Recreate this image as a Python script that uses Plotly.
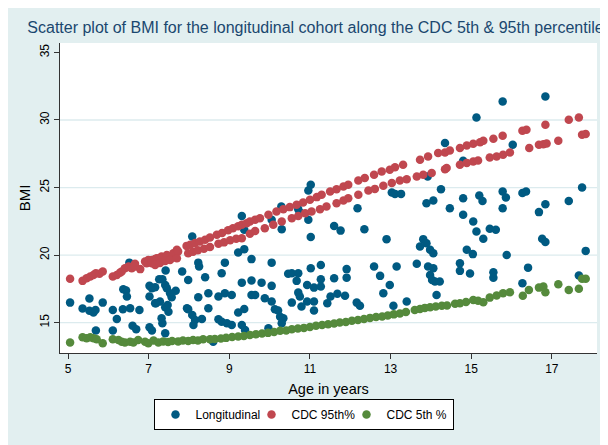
import plotly.graph_objects as go

# ---------------- data ----------------
long_age = [6.52, 5.05, 5.53, 5.36, 5.53, 5.63, 5.68, 5.86, 6.37, 6.44, 6.46, 6.36, 6.54, 6.11, 6.21,
            6.77, 5.69, 6.11, 6.60, 6.69, 7.02, 7.08, 7.02, 7.18, 7.26, 7.02, 7.08,
            9.31, 9.37, 8.08, 9.22, 9.37, 9.55, 8.23, 8.25, 8.89, 7.42, 7.83, 8.81, 8.40, 7.34,
            7.41, 7.45, 7.98, 9.31, 7.16, 7.67, 7.53, 7.57, 8.48, 8.23, 8.89, 9.06, 8.73, 9.55,
            7.28, 7.16, 7.47, 7.41, 7.49, 7.95, 7.98, 8.48, 9.37, 9.22, 8.08, 8.15, 8.32, 8.73,
            8.81, 8.94, 9.06, 7.32, 7.34, 8.11, 9.31, 9.39, 7.41, 8.60,
            11.02, 10.96, 10.29, 10.71, 10.75, 10.05, 10.96, 10.30, 11.60, 11.76, 11.02, 10.05,
            11.91, 11.02, 11.27, 10.46, 10.55, 10.71, 9.55, 9.80, 10.05, 10.67, 11.27, 11.60,
            11.91, 10.93, 11.10, 11.27, 10.71, 10.75, 9.64, 9.88, 10.05, 11.51, 11.68, 11.87,
            10.93, 11.10, 10.55, 11.43, 10.79, 10.13, 10.21, 10.26, 10.34, 11.10, 10.30, 9.97,
            14.35, 13.03, 13.11, 13.26, 13.92, 14.25, 13.89, 14.06, 12.18, 12.35, 12.90, 13.81,
            13.89, 13.73, 13.98, 14.06, 12.59, 13.15, 13.65, 12.74, 12.98, 13.93, 14.06, 13.98,
            14.03, 14.10, 14.22, 12.82, 14.14, 12.16, 12.24, 13.07, 13.40,
            15.78, 15.13, 16.03, 14.80, 14.80, 15.20, 15.28, 15.78, 15.86, 16.27, 16.36, 14.47,
            15.78, 14.80, 15.05, 15.13, 15.30, 15.46, 15.61, 14.89, 15.04, 15.88, 14.72, 14.72,
            14.97, 15.55, 15.55, 16.41, 16.27,
            16.84, 16.68, 16.84, 17.42, 17.75, 16.76, 16.84, 17.84, 17.67]
long_bmi = [19.44, 16.48, 16.78, 16.04, 15.87, 15.74, 15.94, 16.48, 17.47, 17.37, 16.93, 15.99, 16.07, 15.94, 15.27,
            15.94, 14.41, 14.41, 14.76, 14.51, 17.72, 17.55, 16.93, 16.44, 18.21, 14.66, 14.41,
            22.90, 21.87, 21.37, 20.19, 20.44, 19.70, 19.44, 19.15, 19.44, 18.85, 18.78, 18.66, 18.36, 18.21,
            17.79, 17.55, 18.16, 17.96, 17.62, 17.35, 17.18, 16.88, 17.18, 16.88, 17.18, 17.05, 16.93, 17.05,
            16.56, 16.44, 16.31, 16.14, 15.81, 16.07, 15.99, 16.07, 16.01, 15.74, 15.57, 15.20, 15.27, 15.25,
            15.07, 14.96, 14.83, 15.33, 14.96, 14.83, 14.83, 14.46, 14.21, 13.59,
            25.20, 24.78, 23.59, 23.40, 23.15, 22.61, 22.61, 21.92, 22.16, 21.81, 21.33, 19.44,
            18.96, 19.03, 19.27, 18.61, 18.66, 18.66, 18.11, 17.96, 17.72, 18.09, 18.21, 18.29,
            18.33, 17.79, 17.59, 17.67, 17.22, 16.93, 17.05, 16.81, 16.56, 16.93, 17.13, 16.98,
            16.56, 16.56, 16.48, 16.44, 16.19, 15.99, 15.89, 15.44, 15.33, 15.89, 14.96, 14.59,
            28.29, 24.63, 24.53, 24.53, 25.81, 24.88, 23.84, 24.04, 23.47, 21.92, 21.18, 21.18,
            20.88, 20.63, 20.39, 20.14, 19.15, 19.15, 19.35, 18.46, 17.79, 19.15, 19.03, 18.53,
            18.16, 18.04, 18.04, 17.18, 17.05, 16.48, 16.24, 16.24, 16.56,
            31.37, 30.19, 28.16, 26.98, 24.21, 24.41, 24.01, 24.70, 24.26, 24.59, 24.70, 23.47,
            23.47, 22.98, 22.48, 21.74, 21.20, 21.94, 21.87, 20.39, 20.07, 20.01, 19.40, 18.83,
            18.63, 18.73, 18.33, 19.07, 17.92,
            31.74, 23.18, 23.77, 24.01, 25.00, 21.20, 20.96, 20.31, 18.48]

p95_age = [5.05, 5.36, 5.46, 5.55, 5.63, 5.69, 5.78, 5.86, 6.11, 6.21, 6.29, 6.33, 6.41, 6.50, 6.54,
           6.58, 6.66, 6.66, 6.79, 6.91, 6.95, 6.99, 7.08, 7.08, 7.16, 7.20, 7.26, 7.32, 7.45, 7.61,
           7.70, 7.73, 7.16, 7.28, 7.41, 7.53, 7.70,
           7.94, 8.03, 8.15, 8.27, 8.40, 8.52, 8.69, 8.82, 8.97, 9.09, 9.22, 9.31, 9.43, 9.51, 9.64,
           7.98, 8.10, 8.22, 8.37, 8.52, 8.73, 8.87, 9.02, 9.17, 9.31, 9.51, 9.64,
           9.76, 9.97, 10.17, 10.34, 10.50, 10.67, 10.83, 11.00, 11.17, 11.29, 11.50, 11.66, 11.83, 11.95,
           9.88, 10.09, 10.30, 10.55, 10.71, 10.88, 11.04, 11.25, 11.41, 11.66, 11.83, 11.95,
           12.20, 12.36, 12.59, 12.78, 12.98, 13.11, 13.31, 13.73, 13.93, 14.18, 14.35,
           12.20, 12.45, 12.61, 12.82, 13.03, 13.23, 13.40, 13.65, 13.81, 14.02, 14.35,
           14.47, 14.72, 14.89, 15.05, 15.22, 15.30, 15.55, 15.78, 16.27, 16.37, 16.84, 17.42, 17.67,
           14.39, 14.72, 14.89, 15.05, 15.17, 15.46, 15.63, 15.79, 15.96, 16.44, 16.68, 16.79, 16.87,
           17.16, 17.75, 17.84]
p95_bmi = [18.24, 18.09, 18.29, 18.41, 18.53, 18.66, 18.61, 18.78, 18.41, 18.53, 18.70, 18.78, 19.03, 19.15, 19.10,
           19.03, 19.35, 19.15, 18.96, 19.52, 19.40, 19.64, 19.40, 19.64, 19.70, 19.77, 19.77, 19.89, 20.01, 20.14,
           20.39, 20.26, 19.27, 19.42, 19.57, 19.64, 19.77,
           20.68, 20.76, 20.90, 21.01, 21.13, 21.30, 21.50, 21.64, 21.83, 21.98, 22.13, 22.24, 22.36, 22.48, 22.61,
           20.14, 20.24, 20.35, 20.46, 20.59, 20.83, 20.94, 21.09, 21.20, 21.25, 21.57, 21.79,
           22.73, 22.98, 23.22, 23.40, 23.55, 23.72, 23.89, 24.09, 24.29, 24.46, 24.70, 24.88, 25.07, 25.20,
           21.99, 22.24, 22.48, 22.73, 22.90, 23.10, 23.22, 23.40, 23.59, 23.84, 24.04, 24.21,
           25.52, 25.70, 25.94, 26.19, 26.31, 26.51, 26.68, 27.05, 27.30, 27.55, 27.59,
           24.46, 24.78, 24.90, 25.13, 25.33, 25.52, 25.62, 25.81, 25.94, 26.07, 26.36,
           27.74, 27.92, 28.11, 28.24, 28.36, 28.46, 28.61, 28.83, 29.20, 29.27, 29.64, 30.01, 30.19,
           26.44, 26.68, 26.81, 26.93, 27.00, 27.22, 27.30, 27.42, 27.59, 27.92, 28.16, 28.21, 28.26,
           28.46, 28.90, 28.96]

p5_age = [5.05, 5.36, 5.46, 5.55, 5.63, 5.71, 5.86, 6.11, 6.25, 6.33, 6.41, 6.54, 6.62, 6.74, 6.91,
          6.99, 7.12, 7.24, 7.36, 7.48, 7.58, 7.73, 7.85, 7.98, 8.10, 8.22, 8.35, 8.52, 8.64, 8.79,
          8.92, 9.07, 9.22, 9.36, 9.51, 9.66, 9.81, 9.96, 10.11, 10.26, 10.41, 10.55, 10.70, 10.85,
          11.00, 11.15, 11.30, 11.45, 11.60, 11.74, 11.89, 12.04, 12.19, 12.34, 12.49, 12.64, 12.79,
          12.93, 13.08, 13.23, 13.38, 13.60, 13.73, 13.85, 13.98, 14.12, 14.27, 14.40, 14.60, 14.72,
          14.87, 15.05, 15.17, 15.30, 15.46, 15.63, 15.79, 15.96, 16.28, 16.43, 16.68, 16.79, 16.84,
          17.16, 17.42, 17.67, 17.75, 17.84]
p5_bmi = [13.52, 13.92, 13.84, 13.92, 13.84, 13.77, 13.47, 13.77, 13.72, 13.59, 13.52, 13.59, 13.52, 13.72, 13.59,
          13.47, 13.67, 13.52, 13.61, 13.57, 13.64, 13.61, 13.68, 13.64, 13.72, 13.68, 13.76, 13.76, 13.79, 13.83,
          13.87, 13.94, 13.98, 14.01, 14.09, 14.13, 14.20, 14.24, 14.31, 14.39, 14.42, 14.50, 14.57, 14.61,
          14.68, 14.76, 14.83, 14.87, 14.94, 15.01, 15.05, 15.13, 15.20, 15.27, 15.35, 15.42, 15.46,
          15.53, 15.61, 15.68, 15.79, 15.94, 16.01, 16.09, 16.13, 16.20, 16.24, 16.27, 16.39, 16.44,
          16.53, 16.68, 16.61, 16.51, 16.85, 17.00, 17.18, 17.25, 16.98, 17.42, 17.59, 17.67, 17.25,
          17.84, 17.42, 17.50, 18.24, 18.24]

x_ticks = [5, 7, 9, 11, 13, 15, 17]
y_ticks = [15, 20, 25, 30, 35]
grid_vals = [15, 20, 25, 30]

series_names = ["Longitudinal", "CDC 95th%", "CDC 5th %"]
series_colors = ["#005a82", "#c0474f", "#558a3c"]
legend_widths = [51, 50, 62]

# ---------------- figure ----------------
# The page body has an 8px margin, so the figure is 600x437 to fill the window.
fig = go.Figure()
for name, xs, ys, col, lw in zip(series_names,
                                 [long_age, p95_age, p5_age],
                                 [long_bmi, p95_bmi, p5_bmi],
                                 series_colors, legend_widths):
    fig.add_trace(go.Scatter(x=xs, y=ys, mode="markers", name=name, legendwidth=lw,
                             marker=dict(color=col, size=8.5, line=dict(width=0))))

BG = "#e2eff0"
shapes = [
    dict(type="rect", xref="paper", yref="paper", x0=-0.2, x1=1.1, y0=-0.5, y1=1.2,
         fillcolor=BG, line=dict(width=0), layer="below"),
    dict(type="rect", xref="paper", yref="paper", x0=0, x1=1, y0=0, y1=1,
         fillcolor="white", line=dict(width=0), layer="below"),
]
for g in grid_vals:
    shapes.append(dict(type="line", xref="paper", yref="y", x0=0, x1=1, y0=g, y1=g,
                       line=dict(color="#dcebee", width=1.3), layer="below"))

fig.update_layout(
    width=600, height=437,
    margin=dict(l=52, r=11, t=35, b=92),
    paper_bgcolor=BG,
    plot_bgcolor="rgba(0,0,0,0)",
    font=dict(family="Liberation Sans, Arial, sans-serif", color="#000000", size=12),
    title=dict(text="Scatter plot of BMI for the longitudinal cohort along the CDC 5th & 95th percentile",
               x=307.5 / 600, xref="container", xanchor="center",
               y=1 - 19 / 437, yref="container", yanchor="middle",
               font=dict(size=16, color="#1a476f")),
    showlegend=True,
    legend=dict(orientation="h", x=0.4553, xanchor="center", y=-0.1484, yanchor="top",
                bgcolor="white", bordercolor="#000000", borderwidth=1,
                font=dict(size=12), itemwidth=30, entrywidthmode="pixels"),
    shapes=shapes,
)
fig.update_xaxes(range=[4.80, 18.12], tickvals=x_ticks, ticktext=[str(v) for v in x_ticks],
                 showgrid=False, zeroline=False, showline=True, linecolor="#333333", linewidth=1,
                 ticks="outside", ticklen=5, tickcolor="#333333", tickfont=dict(size=12),
                 automargin=False,
                 title=dict(text="Age in years", font=dict(size=14.5), standoff=8))
fig.update_yaxes(range=[12.75, 35.7], tickvals=y_ticks, ticktext=[str(v) for v in y_ticks],
                 showgrid=False, zeroline=False, showline=True, linecolor="#333333", linewidth=1,
                 ticks="outside", ticklen=5, tickcolor="#333333", tickfont=dict(size=12),
                 tickangle=-90, automargin=False,
                 title=dict(text="BMI", font=dict(size=15), standoff=3))

fig.write_html("out.html")
